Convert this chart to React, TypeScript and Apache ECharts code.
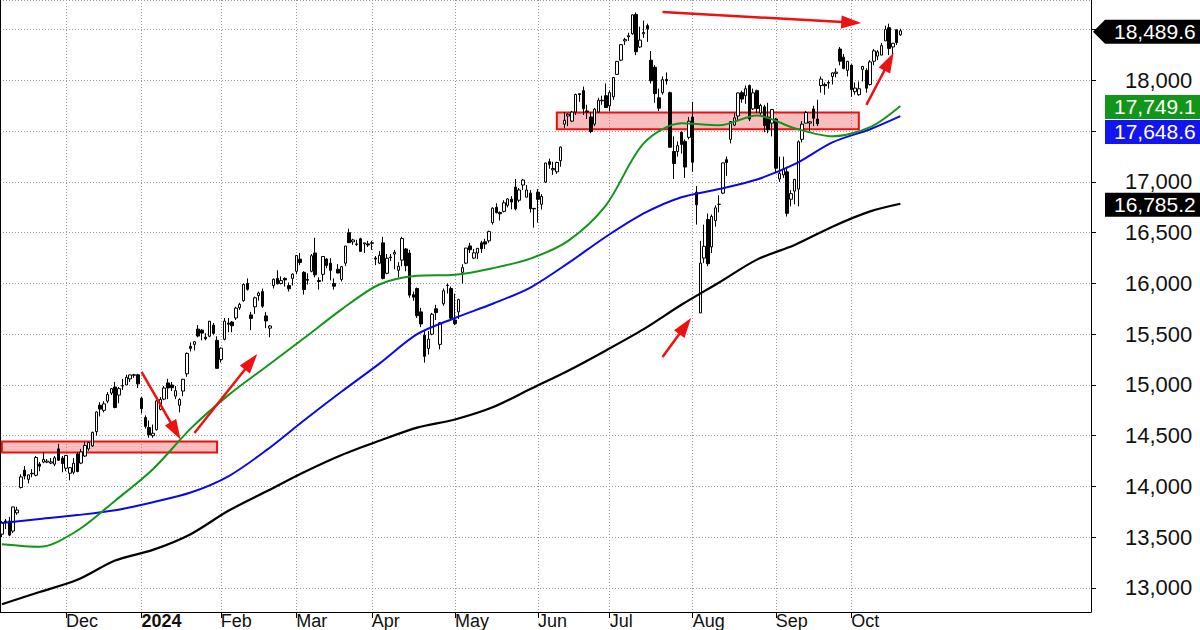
import React, { useEffect, useRef } from "react";
import * as echarts from "echarts";

// ---- Categories: trading days shown (Nasdaq Composite, daily) ----
const MONTH_DAYS: [string, number[]][] = [
  ["2023-11", [7, 8, 9, 10, 13, 14, 15, 16, 17, 20, 21, 22, 24, 27, 28, 29, 30]],
  ["2023-12", [1, 4, 5, 6, 7, 8, 11, 12, 13, 14, 15, 18, 19, 20, 21, 22, 26, 27, 28, 29]],
  ["2024-01", [2, 3, 4, 5, 8, 9, 10, 11, 12, 16, 17, 18, 19, 22, 23, 24, 25, 26, 29, 30, 31]],
  ["2024-02", [1, 2, 5, 6, 7, 8, 9, 12, 13, 14, 15, 16, 20, 21, 22, 23, 26, 27, 28, 29]],
  ["2024-03", [1, 4, 5, 6, 7, 8, 11, 12, 13, 14, 15, 18, 19, 20, 21, 22, 25, 26, 27, 28]],
  ["2024-04", [1, 2, 3, 4, 5, 8, 9, 10, 11, 12, 15, 16, 17, 18, 19, 22, 23, 24, 25, 26, 29, 30]],
  ["2024-05", [1, 2, 3, 6, 7, 8, 9, 10, 13, 14, 15, 16, 17, 20, 21, 22, 23, 24, 28, 29, 30, 31]],
  ["2024-06", [3, 4, 5, 6, 7, 10, 11, 12, 13, 14, 17, 18, 20, 21, 24, 25, 26, 27, 28]],
  ["2024-07", [1, 2, 3, 5, 8, 9, 10, 11, 12, 15, 16, 17, 18, 19, 22, 23, 24, 25, 26, 29, 30, 31]],
  ["2024-08", [1, 2, 5, 6, 7, 8, 9, 12, 13, 14, 15, 16, 19, 20, 21, 22, 23, 26, 27, 28, 29, 30]],
  ["2024-09", [3, 4, 5, 6, 9, 10, 11, 12, 13, 16, 17, 18, 19, 20, 23, 24, 25, 26, 27, 30]],
  ["2024-10", [1, 2, 3, 4, 7, 8, 9, 10, 11, 14, 15, 16, 17, 18]],
];
const FUTURE_SLOTS = 50; // empty space right of the last bar

const MONTH_NAMES = ["Jan", "Feb", "Mar", "Apr", "May", "Jun", "Jul", "Aug", "Sep", "Oct", "Nov", "Dec"];

// ---- Daily prices: [open, high, low, close] ----
const OHLC: number[][] = [
  // Nov 2023
  [13530, 13660, 13500, 13640], [13660, 13680, 13580, 13650], [13660, 13700, 13510, 13521], [13560, 13800, 13540, 13798],
  [13740, 13800, 13720, 13768], [13990, 14120, 13980, 14094], [14160, 14200, 14070, 14103], [14070, 14120, 14030, 14114],
  [14130, 14170, 14090, 14125], [14110, 14300, 14100, 14285], [14220, 14240, 14150, 14199], [14240, 14340, 14230, 14265],
  [14240, 14270, 14230, 14250], [14230, 14280, 14220, 14242], [14220, 14300, 14200, 14282], [14370, 14420, 14250, 14258],
  [14280, 14300, 14140, 14226],
  // Dec
  [14180, 14310, 14150, 14305], [14130, 14190, 14060, 14185], [14140, 14280, 14120, 14229], [14320, 14340, 14140, 14147],
  [14230, 14370, 14220, 14340], [14300, 14440, 14290, 14404], [14370, 14440, 14350, 14432], [14400, 14540, 14390, 14533],
  [14540, 14740, 14500, 14734], [14800, 14830, 14690, 14762], [14750, 14840, 14730, 14814], [14840, 14930, 14820, 14905],
  [14920, 14970, 14900, 14964], [14980, 15030, 14770, 14778], [14900, 14980, 14820, 14964], [14990, 15060, 14950, 14993],
  [15000, 15100, 15000, 15075], [15060, 15100, 15030, 15099], [15100, 15110, 15070, 15096], [15100, 15110, 14970, 15011],
  // Jan 2024
  [14870, 14880, 14720, 14766], [14680, 14700, 14570, 14592], [14580, 14650, 14480, 14510], [14500, 14610, 14480, 14524],
  [14560, 14850, 14550, 14843], [14760, 14880, 14750, 14858], [14860, 14990, 14850, 14970], [15020, 15060, 14860, 14970],
  [15000, 15030, 14940, 14973], [14890, 14990, 14860, 14944], [14800, 14870, 14730, 14856], [14940, 15060, 14890, 15056],
  [15110, 15320, 15080, 15311], [15380, 15420, 15330, 15361], [15400, 15430, 15340, 15426], [15550, 15590, 15470, 15482],
  [15540, 15550, 15440, 15511], [15470, 15510, 15440, 15455], [15480, 15630, 15470, 15628], [15590, 15610, 15490, 15509],
  [15440, 15480, 15160, 15164],
  // Feb
  [15250, 15370, 15220, 15362], [15450, 15660, 15440, 15629], [15610, 15660, 15520, 15598], [15620, 15630, 15520, 15583],
  [15660, 15770, 15640, 15757], [15760, 15810, 15740, 15794], [15830, 16000, 15820, 15990], [16000, 16050, 15930, 15942],
  [15690, 15720, 15540, 15656], [15770, 15870, 15700, 15859], [15880, 15920, 15830, 15906], [15920, 15950, 15760, 15776],
  [15680, 15720, 15560, 15631], [15560, 15590, 15470, 15581], [15980, 16050, 15950, 16041], [16050, 16130, 15990, 15997],
  [16000, 16070, 15990, 16028], [16050, 16060, 15970, 16035], [15980, 16010, 15920, 15948], [16050, 16100, 15980, 16092],
  // Mar
  [16120, 16280, 16090, 16275], [16240, 16300, 16180, 16207], [16110, 16120, 15890, 15940], [16040, 16100, 15990, 16032],
  [16120, 16290, 16110, 16273], [16300, 16450, 16060, 16085], [16030, 16060, 15940, 16020], [16090, 16270, 16020, 16266],
  [16240, 16250, 16150, 16178], [16200, 16250, 16030, 16129], [16000, 16050, 15940, 15973], [16140, 16190, 16100, 16103],
  [16040, 16170, 16020, 16166], [16200, 16370, 16170, 16369], [16500, 16540, 16400, 16402], [16410, 16440, 16380, 16429],
  [16390, 16430, 16370, 16384], [16440, 16450, 16310, 16316], [16390, 16400, 16300, 16400], [16390, 16420, 16360, 16379],
  // Apr
  [16400, 16420, 16330, 16397], [16250, 16270, 16180, 16240], [16200, 16320, 16190, 16277], [16400, 16460, 16040, 16050],
  [16100, 16290, 16090, 16249], [16260, 16290, 16220, 16254], [16290, 16330, 16140, 16307], [16130, 16210, 16060, 16170],
  [16230, 16460, 16170, 16443], [16340, 16350, 16120, 16175], [16300, 16330, 15860, 15885], [15890, 15920, 15830, 15865],
  [15950, 15960, 15660, 15683], [15720, 15760, 15570, 15601], [15490, 15530, 15220, 15282], [15360, 15530, 15300, 15451],
  [15500, 15710, 15490, 15697], [15750, 15790, 15640, 15713], [15400, 15620, 15350, 15612], [15800, 15950, 15780, 15928],
  [15980, 16000, 15900, 15983], [15950, 15970, 15650, 15658],
  // May
  [15640, 15900, 15590, 15605], [15720, 15850, 15650, 15841], [16110, 16190, 16000, 16156], [16200, 16350, 16190, 16349],
  [16370, 16400, 16300, 16333], [16250, 16340, 16240, 16302], [16300, 16350, 16240, 16346], [16400, 16420, 16300, 16341],
  [16410, 16440, 16340, 16388], [16420, 16520, 16400, 16511], [16600, 16750, 16580, 16742], [16750, 16790, 16690, 16698],
  [16700, 16710, 16620, 16686], [16710, 16820, 16700, 16795], [16770, 16840, 16750, 16833], [16830, 16860, 16730, 16802],
  [16950, 17030, 16720, 16736], [16820, 16940, 16800, 16921], [16970, 17030, 16920, 17019], [16850, 16970, 16850, 16921],
  [16890, 16920, 16700, 16737], [16740, 16740, 16550, 16735],
  // Jun
  [16900, 16930, 16600, 16829], [16780, 16880, 16730, 16857], [17000, 17190, 16990, 17187], [17200, 17230, 17130, 17173],
  [17120, 17200, 17070, 17133], [17100, 17200, 17080, 17192], [17210, 17350, 17150, 17343], [17570, 17690, 17530, 17608],
  [17650, 17680, 17550, 17667], [17600, 17700, 17590, 17689], [17690, 17870, 17660, 17862], [17870, 17870, 17790, 17862],
  [17900, 17940, 17660, 17722], [17700, 17760, 17620, 17689], [17640, 17690, 17480, 17497], [17570, 17730, 17550, 17718],
  [17690, 17830, 17680, 17805], [17800, 17850, 17760, 17805], [17850, 17970, 17730, 17733],
  // Jul
  [17750, 17900, 17700, 17880], [17840, 18030, 17810, 18029], [18060, 18190, 18060, 18188], [18200, 18360, 18190, 18353],
  [18390, 18420, 18350, 18403], [18440, 18470, 18390, 18430], [18460, 18650, 18450, 18647], [18650, 18670, 18250, 18283],
  [18330, 18530, 18320, 18398], [18460, 18590, 18420, 18473], [18540, 18560, 18380, 18509], [18200, 18290, 17970, 17997],
  [18130, 18150, 17780, 17871], [17830, 17920, 17700, 17727], [17880, 18040, 17860, 18008], [18010, 18080, 17960, 17997],
  [17880, 17890, 17340, 17342], [17300, 17450, 17030, 17182], [17300, 17400, 17250, 17358], [17490, 17500, 17280, 17370],
  [17400, 17420, 17040, 17147], [17440, 17640, 17420, 17599],
  // Aug
  [17640, 17790, 17100, 17195], [16900, 16960, 16580, 16776], [15710, 16420, 15708, 16200], [16250, 16580, 16200, 16366],
  [16630, 16690, 16170, 16195], [16360, 16680, 16300, 16660], [16620, 16770, 16560, 16745], [16780, 16870, 16700, 16780],
  [16890, 17190, 16880, 17188], [17220, 17250, 17060, 17192], [17420, 17600, 17380, 17595], [17560, 17680, 17550, 17632],
  [17650, 17880, 17600, 17877], [17880, 17900, 17780, 17817], [17850, 17950, 17770, 17919], [17950, 17960, 17600, 17620],
  [17720, 17920, 17710, 17878], [17900, 17910, 17680, 17725], [17680, 17770, 17660, 17754], [17740, 17760, 17490, 17556],
  [17640, 17780, 17480, 17516], [17580, 17720, 17450, 17714],
  // Sep
  [17620, 17630, 17090, 17136], [17030, 17250, 17000, 17084], [17070, 17250, 17040, 17128], [17100, 17150, 16660, 16691],
  [16830, 16920, 16760, 16885], [16910, 17030, 16780, 17026], [16930, 17410, 16760, 17396], [17420, 17600, 17390, 17570],
  [17580, 17700, 17580, 17684], [17580, 17600, 17500, 17593], [17720, 17750, 17550, 17628], [17620, 17810, 17550, 17573],
  [17950, 18040, 17880, 18014], [17960, 17980, 17860, 17948], [17980, 18000, 17920, 17974], [18040, 18080, 17960, 18075],
  [18070, 18120, 18030, 18082], [18310, 18330, 18150, 18190], [18230, 18260, 18110, 18119], [18100, 18190, 18040, 18189],
  // Oct
  [18150, 18160, 17840, 17910], [17890, 17980, 17860, 17925], [17860, 17990, 17850, 17918], [18110, 18140, 17990, 18138],
  [18100, 18120, 17880, 17924], [17960, 18200, 17950, 18183], [18190, 18310, 18150, 18292], [18240, 18300, 18200, 18282],
  [18250, 18370, 18250, 18343], [18390, 18540, 18390, 18503], [18520, 18560, 18250, 18316], [18330, 18370, 18240, 18367],
  [18500, 18500, 18350, 18374], [18450, 18510, 18440, 18489.6],
];

// ---- Moving averages, read at every 10th bar (and the last bar) ----
const MA_SAMPLE_IDX = [0, 10, 20, 30, 40, 50, 60, 70, 80, 90, 100, 110, 120, 130, 140, 150, 160, 170, 180, 190, 200, 210, 220, 230, 238];
const MA50 = [13430, 13405, 13565, 13860, 14170, 14570, 14900, 15180, 15460, 15745, 15990, 16075, 16085, 16150, 16245, 16420, 16770, 17380, 17578, 17558, 17655, 17530, 17450, 17540, 17749.1];
const MA100 = [13640, 13680, 13718, 13765, 13845, 13940, 14100, 14355, 14650, 14935, 15210, 15500, 15660, 15800, 15960, 16200, 16460, 16690, 16850, 16930, 17024, 17175, 17390, 17520, 17648.6];
const MA200 = [12840, 12960, 13080, 13270, 13375, 13530, 13760, 13950, 14140, 14310, 14450, 14580, 14660, 14780, 14960, 15140, 15340, 15550, 15790, 16010, 16235, 16380, 16560, 16710, 16785.2];

// ---- Annotations in data coordinates ----
// support zones: [fromBar, toBar, low, high]
const ZONES: number[][] = [
  [0, 57, 14335, 14442],
  [147, 227, 17520, 17685],
];
// arrows: [fromBar, fromValue, toBar, toValue]
const ARROWS: number[][] = [
  [37, 15128, 46, 14547],
  [51, 14527, 66, 15229],
  [175, 15276, 181, 15581],
  [175, 18675, 225, 18571],
  [229, 17759, 235, 18185],
];

const Y_MIN = 12763;
const Y_MAX = 18793;

const FONT = '"Liberation Sans", Arial, Helvetica, sans-serif';

const DATES: string[] = [];
MONTH_DAYS.forEach(([ym, days]) => days.forEach((d) => DATES.push(`${ym}-${String(d).padStart(2, "0")}`)));
const CATEGORIES: string[] = DATES.concat(new Array(FUTURE_SLOTS).fill(""));

const isMonthStart = (index: number) =>
  index > 0 && !!CATEGORIES[index] && CATEGORIES[index].slice(0, 7) !== CATEGORIES[index - 1].slice(0, 7);

const fmt1 = (v: number) => v.toLocaleString("en-US", { minimumFractionDigits: 1, maximumFractionDigits: 1 });

export default function App() {
  const ref = useRef<HTMLDivElement>(null);

  useEffect(() => {
    if (!ref.current) return;
    const chart = echarts.init(ref.current, null, { renderer: "svg" });

    const candleData = OHLC.map(([o, h, l, c]) => [o, c, l, h]);
    const maLine = (vals: number[]) => MA_SAMPLE_IDX.map((i, k) => [i, vals[k]]);

    const option: any = {
      animation: false,
      backgroundColor: "#ffffff",
      grid: { left: 0, right: 109, top: 0, bottom: 18, containLabel: false, outerBoundsMode: "none" },
      xAxis: {
        type: "category",
        data: CATEGORIES,
        boundaryGap: true,
        axisLine: { show: true, onZero: false, lineStyle: { color: "#000", width: 1 } },
        axisTick: {
          show: true,
          alignWithLabel: true,
          interval: (i: number) => isMonthStart(i),
          length: 6,
          lineStyle: { color: "#000" },
        },
        axisLabel: {
          show: true,
          interval: (i: number) => isMonthStart(i),
          align: "left",
          verticalAlign: "top",
          margin: 1,
          fontSize: 18,
          lineHeight: 16,
          fontFamily: FONT,
          color: "#111",
          formatter: (value: string) => {
            if (!value) return "";
            const m = +value.slice(5, 7);
            if (m === 1) return `{b|${value.slice(0, 4)}}`;
            return MONTH_NAMES[m - 1];
          },
          rich: { b: { fontWeight: "bold", fontSize: 18, lineHeight: 16, fontFamily: FONT, color: "#111" } },
        },
        splitLine: {
          show: true,
          alignWithLabel: true,
          interval: (i: number) => isMonthStart(i),
          lineStyle: { color: "#9a9a9a", type: [1, 2], width: 1 },
        },
      },
      yAxis: [
        {
          type: "value",
          position: "right",
          min: Y_MIN,
          max: Y_MAX,
          splitNumber: 12,
          axisLine: { show: true, lineStyle: { color: "#000", width: 1 } },
          axisTick: { show: true, length: 5, lineStyle: { color: "#000" } },
          axisLabel: {
            show: true,
            margin: 34,
            fontSize: 22,
            fontFamily: FONT,
            color: "#111",
            showMinLabel: false,
            showMaxLabel: false,
            formatter: (v: number) => v.toLocaleString("en-US"),
          },
          splitLine: { show: true, lineStyle: { color: "#9a9a9a", type: [1, 2], width: 1 } },
        },
        {
          type: "value",
          position: "left",
          min: Y_MIN,
          max: Y_MAX,
          axisLine: { show: true, lineStyle: { color: "#000", width: 1 } },
          axisTick: { show: false },
          axisLabel: { show: false },
          splitLine: { show: false },
        },
      ],
      series: [
        {
          type: "candlestick",
          data: candleData,
          barWidth: 3,
          itemStyle: {
            color: "#ffffff",
            color0: "#000000",
            borderColor: "#000000",
            borderColor0: "#000000",
            borderWidth: 1,
          },
          silent: true,
          markArea: {
            silent: true,
            itemStyle: { color: "rgba(240,110,110,0.45)", borderColor: "#e81010", borderWidth: 2 },
            label: { show: false },
            data: ZONES.map(([a, b, lo, hi]) => [{ coord: [a, hi] }, { coord: [b, lo] }]),
          },
        },
        {
          type: "line",
          data: maLine(MA200),
          showSymbol: false,
          silent: true,
          smooth: 0.3,
          lineStyle: { color: "#000000", width: 2.2 },
        },
        {
          type: "line",
          data: maLine(MA100),
          showSymbol: false,
          silent: true,
          smooth: 0.3,
          lineStyle: { color: "#0a0ae6", width: 2 },
        },
        {
          type: "line",
          data: maLine(MA50),
          showSymbol: false,
          silent: true,
          smooth: 0.3,
          lineStyle: { color: "#12961a", width: 2 },
          markLine: {
            silent: true,
            animation: false,
            label: { show: false },
            lineStyle: { color: "#ee1111", width: 2.5, type: "solid" },
            emphasis: { disabled: true },
            data: ARROWS.map(([x1, y1, x2, y2]) => [
              { coord: [x1, y1], symbol: "none" },
              { coord: [x2, y2], symbol: "triangle", symbolSize: [13, 20] },
            ]),
          },
        },
      ],
    };

    chart.setOption(option);

    // value tags on the right axis
    const tags = [
      { value: OHLC[OHLC.length - 1][3], color: "#000000", arrow: true },
      { value: MA50[MA50.length - 1], color: "#12961a", arrow: false },
      { value: MA100[MA100.length - 1], color: "#1414f0", arrow: false },
      { value: MA200[MA200.length - 1], color: "#000000", arrow: false },
    ]
      .map((t) => ({ ...t, y: chart.convertToPixel({ yAxisIndex: 0 }, t.value) as number }))
      .sort((a, b) => a.y - b.y);
    const H = 24;
    for (let i = 1; i < tags.length; i++) {
      if (tags[i].y < tags[i - 1].y + H + 1) tags[i].y = tags[i - 1].y + H + 1;
    }
    const axisX = 1200 - 109;
    const graphics: any[] = [];
    tags.forEach((t) => {
      const yc = t.y + 1;
      if (t.arrow) {
        graphics.push({
          type: "polygon",
          z: 100,
          shape: {
            points: [
              [axisX + 2, yc],
              [axisX + 14, yc - H / 2],
              [1200, yc - H / 2],
              [1200, yc + H / 2],
              [axisX + 14, yc + H / 2],
            ],
          },
          style: { fill: t.color },
        });
      } else {
        graphics.push({
          type: "rect",
          z: 100,
          shape: { x: axisX + 14, y: yc - H / 2, width: 1200 - axisX - 14, height: H },
          style: { fill: t.color },
        });
      }
      graphics.push({
        type: "text",
        z: 101,
        x: axisX + 23,
        y: yc,
        style: {
          text: fmt1(t.value),
          fill: "#ffffff",
          font: `21px ${FONT}`,
          textAlign: "left",
          textVerticalAlign: "middle",
        },
      });
    });

    // hide axis labels that sit fully under a value tag (as in the reference)
    const hidden = (v: number) => {
      const y = chart.convertToPixel({ yAxisIndex: 0 }, v) as number;
      return tags.some((t) => Math.abs(t.y + 1 - y) < 8);
    };
    chart.setOption({
      graphic: graphics,
      yAxis: [
        {
          axisLabel: {
            formatter: (v: number) => (hidden(v) ? "" : v.toLocaleString("en-US")),
          },
        },
        {},
      ],
    });

    return () => chart.dispose();
  }, []);

  return (
    <div
      ref={ref}
      style={{ position: "fixed", left: 0, top: 0, width: 1200, height: 630, background: "#fff" }}
    />
  );
}
